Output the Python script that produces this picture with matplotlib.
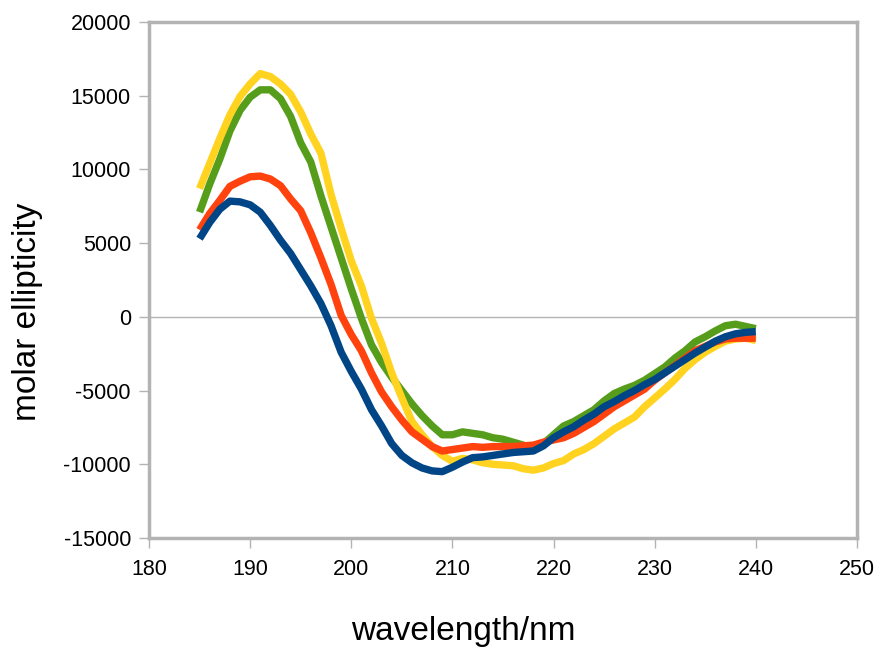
import numpy as np
import matplotlib
matplotlib.use('Agg')
import matplotlib.pyplot as plt

plt.rcParams['font.family'] = ['Liberation Sans', 'DejaVu Sans']
plt.rcParams['axes.unicode_minus'] = False

wavelength = list(range(185, 241))

# molar ellipticity, 1 nm steps from 185 to 240
blue = [5300, 6400, 7300, 7850, 7800, 7600, 7100, 6200, 5200, 4300,
        3200, 2100, 900, -600, -2400, -3700, -4900, -6300, -7400, -8600,
        -9400, -9900, -10250, -10450, -10500, -10200, -9850, -9550, -9500, -9400,
        -9300, -9200, -9150, -9100, -8750, -8200, -7800, -7450, -7000, -6600,
        -6100, -5750, -5350, -5000, -4600, -4250, -3800, -3350, -2900, -2450,
        -2050, -1650, -1350, -1150, -1050, -1000]
red = [5900, 7000, 7900, 8850, 9200, 9500, 9550, 9350, 8900, 8000,
       7200, 5700, 4000, 2200, 100, -1200, -2300, -3800, -5100, -6100,
       -7000, -7800, -8300, -8800, -9100, -9000, -8900, -8800, -8850, -8800,
       -8800, -8800, -8750, -8700, -8500, -8350, -8200, -7900, -7500, -7100,
       -6600, -6100, -5700, -5300, -4900, -4300, -3800, -3300, -2800, -2300,
       -2000, -1700, -1500, -1450, -1450, -1450]
yellow = [8700, 10400, 12100, 13700, 14950, 15800, 16500, 16300, 15800, 15100,
          13900, 12400, 11100, 8300, 6000, 3800, 2100, -100, -1800, -3800,
          -5500, -7100, -8000, -8800, -9400, -9800, -9600, -9700, -9900, -10000,
          -10050, -10100, -10300, -10400, -10250, -9950, -9750, -9300, -9000, -8600,
          -8100, -7600, -7200, -6800, -6100, -5500, -4900, -4250, -3500, -2900,
          -2400, -2000, -1650, -1500, -1450, -1600]
green = [7100, 9000, 10700, 12600, 14000, 14900, 15400, 15400, 14800, 13600,
         11800, 10500, 8200, 6100, 4000, 1900, -100, -1900, -3100, -4100,
         -5000, -5900, -6700, -7400, -8000, -8000, -7800, -7900, -8000, -8200,
         -8300, -8500, -8700, -8900, -8600, -8000, -7400, -7100, -6700, -6300,
         -5700, -5200, -4900, -4650, -4300, -3850, -3400, -2800, -2300, -1700,
         -1350, -950, -600, -500, -650, -800]

fig = plt.figure(figsize=(8.78, 6.51), dpi=100)
ax = fig.add_axes([0.1697, 0.1736, 0.8063, 0.7926])

grey = '#b3b3b3'
ax.axhline(0, color=grey, lw=1.0, zorder=1)

lw = 5.3
style = dict(lw=lw, solid_capstyle='butt', solid_joinstyle='round')
ax.plot(wavelength, green, color='#579d1c', zorder=2, **style)
ax.plot(wavelength, yellow, color='#ffd320', zorder=3, **style)
ax.plot(wavelength, red, color='#ff420e', zorder=4, **style)
ax.plot(wavelength, blue, color='#004586', zorder=5, **style)

ax.set_xlim(180, 250)
ax.set_ylim(-15000, 20000)
ax.set_xticks(np.arange(180, 251, 10))
ax.set_yticks(np.arange(-15000, 20001, 5000))

for s in ax.spines.values():
  s.set_color(grey)
  s.set_linewidth(2.5)

ax.tick_params(axis='both', direction='out', length=7, width=1, color=grey,
               labelsize=15.5, labelcolor='black')
ax.tick_params(axis='y', pad=6)
ax.tick_params(axis='x', pad=8)

ax.set_xlabel('wavelength/nm', fontsize=24)
ax.set_ylabel('molar ellipticity', fontsize=24)
ax.xaxis.set_label_coords(0.4435, -0.182)
ax.xaxis.label.set_verticalalignment('center')
ax.yaxis.set_label_coords(-0.171, 0.438)
ax.yaxis.label.set_verticalalignment('center')

fig.savefig('out.png', dpi=100)
